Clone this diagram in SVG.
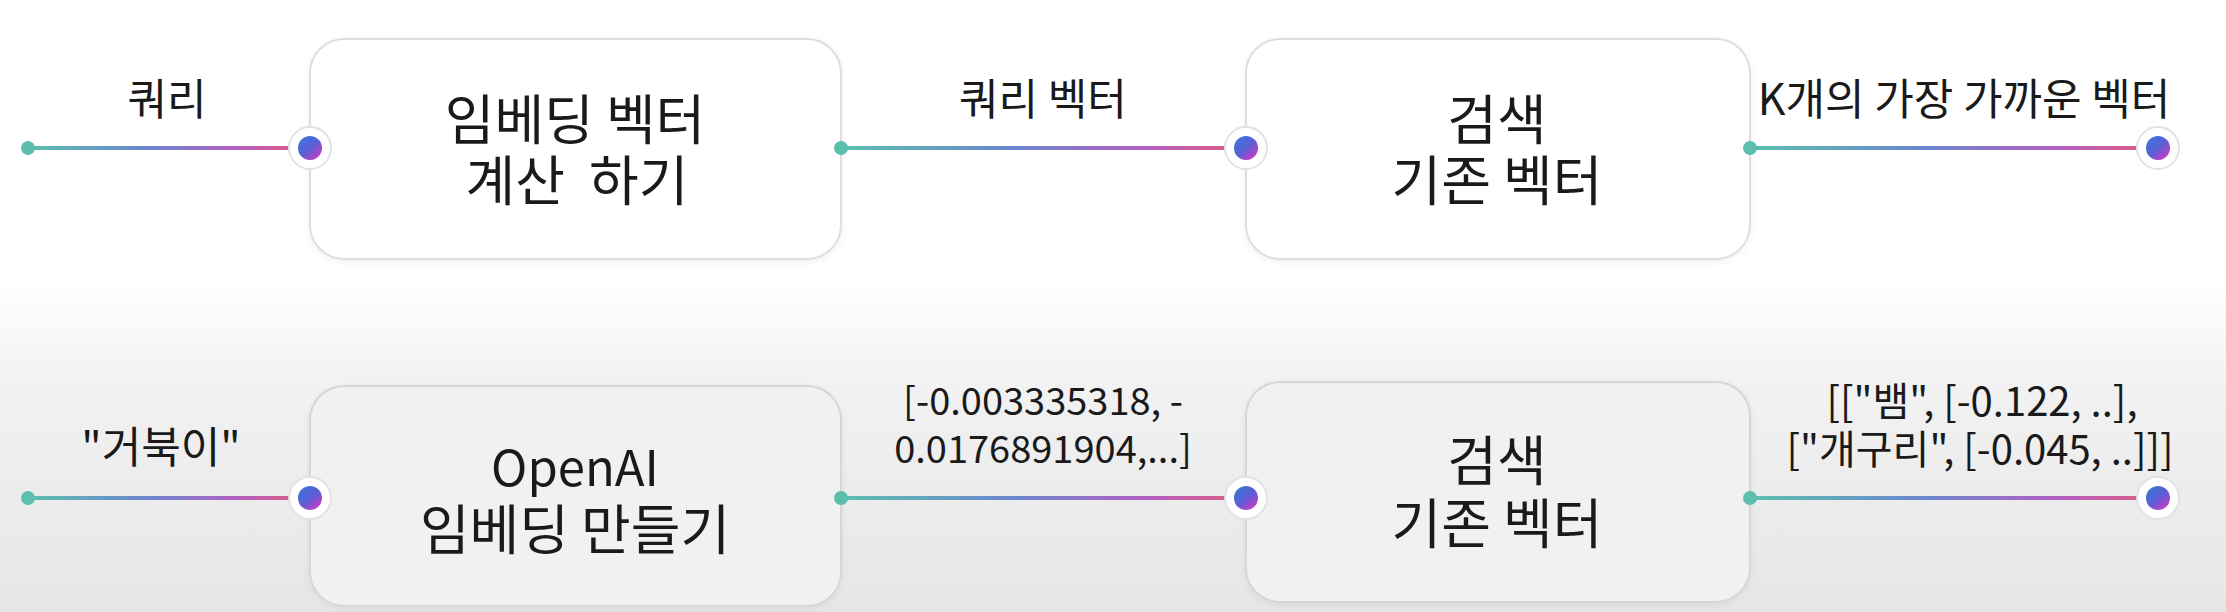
<svg xmlns="http://www.w3.org/2000/svg" width="2226" height="612" viewBox="0 0 2226 612">
<defs>
<linearGradient id="bg" x1="0" y1="0" x2="0" y2="1">
<stop offset="0" stop-color="#ffffff"/>
<stop offset="0.46" stop-color="#ffffff"/>
<stop offset="0.62" stop-color="#f2f2f2"/>
<stop offset="1" stop-color="#e6e6e6"/>
</linearGradient>
<linearGradient id="cg">
<stop offset="0" stop-color="#5cc0ad"/>
<stop offset="0.45" stop-color="#6b86cf"/>
<stop offset="0.8" stop-color="#b65fc0"/>
<stop offset="1" stop-color="#d95c8a"/>
</linearGradient>
<linearGradient id="c1" href="#cg" gradientUnits="userSpaceOnUse" x1="28" y1="0" x2="292" y2="0"/>
<linearGradient id="c2" href="#cg" gradientUnits="userSpaceOnUse" x1="841" y1="0" x2="1228" y2="0"/>
<linearGradient id="c3" href="#cg" gradientUnits="userSpaceOnUse" x1="1750" y1="0" x2="2140" y2="0"/>
<linearGradient id="pg" x1="0.15" y1="0.1" x2="0.85" y2="0.9">
<stop offset="0" stop-color="#3f72d6"/>
<stop offset="0.5" stop-color="#5a5fd6"/>
<stop offset="1" stop-color="#c43cc4"/>
</linearGradient>
<filter id="sh" x="-5%" y="-5%" width="110%" height="115%">
<feDropShadow dx="0" dy="2" stdDeviation="3" flood-color="#000" flood-opacity="0.06"/>
</filter>
</defs>
<style>
.box{fill:#ffffff;stroke:#dedede;stroke-width:2}
.box2{fill:#f1f1f1;stroke:#d6d6d6;stroke-width:2}
.t{font-family:"Noto Sans CJK KR","Noto Sans",sans-serif;font-size:54px;fill:#1a1a1a;text-anchor:middle}
.tl{font-size:49px}
.l{font-family:"Noto Sans CJK KR","Noto Sans",sans-serif;font-size:43px;fill:#1a1a1a;text-anchor:middle}
.n{font-size:38px}
.m{font-size:40px}
.po{fill:#ffffff;stroke:#e2e2e2;stroke-width:2}
.pi{fill:url(#pg)}
.sd{fill:#5cbfae}
</style>
<rect width="2226" height="612" fill="url(#bg)"/>

<g id="connectors">
<path d="M28 148H292" stroke="url(#c1)" stroke-width="4" fill="none"/>
<path d="M841 148H1228" stroke="url(#c2)" stroke-width="4" fill="none"/>
<path d="M1750 148H2140" stroke="url(#c3)" stroke-width="4" fill="none"/>
<path d="M28 498H292" stroke="url(#c1)" stroke-width="4" fill="none"/>
<path d="M841 498H1228" stroke="url(#c2)" stroke-width="4" fill="none"/>
<path d="M1750 498H2140" stroke="url(#c3)" stroke-width="4" fill="none"/>
<circle class="sd" cx="28" cy="148" r="7"/>
<circle class="sd" cx="28" cy="498" r="7"/>
<text class="l" x="167" y="115">쿼리</text>
<text class="l" x="1043" y="115">쿼리 벡터</text>
<text class="l" x="1964" y="115">K개의 가장 가까운 벡터</text>
<text class="l" x="161" y="463">"거북이"</text>
<text class="l n" x="1043" y="415">[-0.003335318, -</text>
<text class="l n" x="1043" y="463">0.0176891904,...]</text>
<text class="l m" x="1982" y="416">[["뱀", [-0.122, ..],</text>
<text class="l m" x="1980" y="464">["개구리", [-0.045, ..]]]</text>
<circle class="po" cx="2158" cy="148" r="21"/>
<circle class="pi" cx="2158" cy="148" r="12"/>
<circle class="po" cx="2158" cy="498" r="21"/>
<circle class="pi" cx="2158" cy="498" r="12"/>
</g>

<g id="node-embed">
<rect class="box" x="310" y="39" width="531" height="220" rx="34" filter="url(#sh)"/>
<text class="t" x="575" y="140">임베딩 벡터</text>
<text class="t" x="577" y="201" xml:space="preserve">계산  하기</text>
<circle class="po" cx="310" cy="148" r="21"/>
<circle class="pi" cx="310" cy="148" r="12"/>
<circle class="sd" cx="841" cy="148" r="7"/>
</g>

<g id="node-search1">
<rect class="box" x="1246" y="39" width="504" height="220" rx="34" filter="url(#sh)"/>
<text class="t" x="1497" y="140">검색</text>
<text class="t" x="1497" y="201">기존 벡터</text>
<circle class="po" cx="1246" cy="148" r="21"/>
<circle class="pi" cx="1246" cy="148" r="12"/>
<circle class="sd" cx="1750" cy="148" r="7"/>
</g>

<g id="node-openai">
<rect class="box2" x="310" y="386" width="531" height="220" rx="34" filter="url(#sh)"/>
<text class="t tl" x="575" y="486">OpenAI</text>
<text class="t" x="575" y="550">임베딩 만들기</text>
<circle class="po" cx="310" cy="498" r="21"/>
<circle class="pi" cx="310" cy="498" r="12"/>
<circle class="sd" cx="841" cy="498" r="7"/>
</g>

<g id="node-search2">
<rect class="box2" x="1246" y="382" width="504" height="220" rx="34" filter="url(#sh)"/>
<text class="t" x="1497" y="481">검색</text>
<text class="t" x="1497" y="544">기존 벡터</text>
<circle class="po" cx="1246" cy="498" r="21"/>
<circle class="pi" cx="1246" cy="498" r="12"/>
<circle class="sd" cx="1750" cy="498" r="7"/>
</g>
</svg>
